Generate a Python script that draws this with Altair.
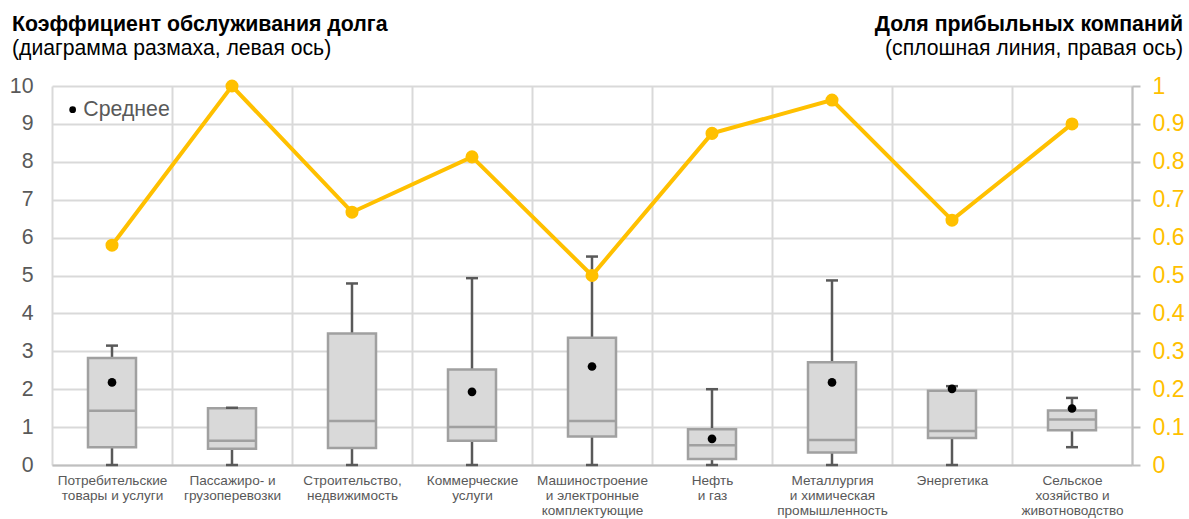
import altair as alt
import pandas as pd

categories = [
    "Потребительские\nтовары и услуги",
    "Пассажиро- и\nгрузоперевозки",
    "Строительство,\nнедвижимость",
    "Коммерческие\nуслуги",
    "Машиностроение\nи электронные\nкомплектующие",
    "Нефть\nи газ",
    "Металлургия\nи химическая\nпромышленность",
    "Энергетика",
    "Сельское\nхозяйство и\nживотноводство",
]
whisker_low = [0, 0, 0, 0, 0, 0, 0, 0, 0.47]
q1 = [0.47, 0.43, 0.45, 0.64, 0.75, 0.16, 0.33, 0.71, 0.92]
median = [1.43, 0.64, 1.16, 1.0, 1.16, 0.52, 0.66, 0.9, 1.2]
q3 = [2.82, 1.5, 3.47, 2.52, 3.36, 0.94, 2.71, 1.96, 1.44]
whisker_high = [3.15, 1.51, 4.79, 4.93, 5.5, 2.0, 4.87, 2.08, 1.77]
mean = [2.18, None, None, 1.93, 2.6, 0.69, 2.18, 2.01, 1.49]
profitable_share = [0.58, 1.0, 0.667, 0.813, 0.5, 0.875, 0.963, 0.646, 0.9]

left_ticks = list(range(0, 11))
right_ticks = [0, 0.1, 0.2, 0.3, 0.4, 0.5, 0.6, 0.7, 0.8, 0.9, 1]

title_left = "Коэффициент обслуживания долга"
subtitle_left = "(диаграмма размаха, левая ось)"
title_right = "Доля прибыльных компаний"
subtitle_right = "(сплошная линия, правая ось)"
legend_label = "Среднее"

df = pd.DataFrame({
    "cat": categories,
    "lo": whisker_low,
    "q1": q1,
    "med": median,
    "q3": q3,
    "hi": whisker_high,
    "mean": mean,
    "share": profitable_share,
    "lbl": [legend_label] * len(categories),
})

GRID = "#D9D9D9"
AX = "#BFBFBF"
TXT = "#595959"
GOLD = "#FFC000"
BOXLINE = "#A0A0A0"

x_enc = alt.X(
    "cat:N",
    sort=categories,
    title=None,
    scale=alt.Scale(paddingInner=0, paddingOuter=0),
    axis=alt.Axis(
        labelExpr="split(datum.label, '\\n')",
        labelAngle=0,
        labelFontSize=13.6,
        labelLineHeight=15,
        labelColor=TXT,
        labelPadding=8,
        ticks=False,
        tickBand="extent",
        grid=True,
        gridColor=GRID,
        gridWidth=2,
        domainColor=AX,
        domainWidth=2,
        labelBaseline="top",
    ),
)

yl_scale = alt.Scale(domain=[0, 10], nice=False)
yl_axis = alt.Axis(
    values=left_ticks,
    labelFontSize=21.3,
    labelColor=TXT,
    labelPadding=19,
    ticks=False,
    domain=False,
    grid=True,
    gridColor=GRID,
    gridWidth=2,
)

base = alt.Chart(df)

whisk = base.mark_rule(color=TXT, strokeWidth=2.5).encode(
    x=x_enc,
    y=alt.Y("lo:Q", scale=yl_scale, axis=yl_axis, title=None),
    y2="hi:Q",
)
cap_hi = base.mark_tick(color=TXT, size=12, thickness=2.5, opacity=1).encode(
    x=x_enc, y=alt.Y("hi:Q", scale=yl_scale, axis=yl_axis, title=None)
)
cap_lo = base.mark_tick(color=TXT, size=12, thickness=2.5, opacity=1).encode(
    x=x_enc, y=alt.Y("lo:Q", scale=yl_scale, axis=yl_axis, title=None)
)
box = base.mark_bar(size=48, fill="#D9D9D9", stroke=BOXLINE, strokeWidth=2.5).encode(
    x=x_enc,
    y=alt.Y("q1:Q", scale=yl_scale, axis=yl_axis, title=None),
    y2="q3:Q",
)
med = base.mark_tick(color=BOXLINE, size=48, thickness=2.5, opacity=1).encode(
    x=x_enc, y=alt.Y("med:Q", scale=yl_scale, axis=yl_axis, title=None)
)
dots = base.mark_circle(size=75, opacity=1).encode(
    x=x_enc,
    y=alt.Y("mean:Q", scale=yl_scale, axis=yl_axis, title=None),
    color=alt.Color(
        "lbl:N",
        scale=alt.Scale(range=["#000000"]),
        legend=alt.Legend(
            orient="none",
            legendX=10,
            legendY=13,
            title=None,
            labelFontSize=21.3,
            labelColor=TXT,
            symbolSize=45,
            symbolType="circle",
            symbolStrokeWidth=0,
            labelOffset=0,
        ),
    ),
)

texts = alt.Chart(pd.DataFrame({"t": [title_left]})).mark_text(
    fontSize=21.3, fontWeight="bold", align="left", baseline="alphabetic", color="#000000"
).encode(text="t:N", x=alt.value(-40), y=alt.value(-55))
texts2 = alt.Chart(pd.DataFrame({"t": [subtitle_left]})).mark_text(
    fontSize=21.2, align="left", baseline="alphabetic", color="#000000"
).encode(text="t:N", x=alt.value(-40), y=alt.value(-31))
texts3 = alt.Chart(pd.DataFrame({"t": [title_right]})).mark_text(
    fontSize=21.3, fontWeight="bold", align="right", baseline="alphabetic", color="#000000"
).encode(text="t:N", x=alt.value(1131), y=alt.value(-55))
texts4 = alt.Chart(pd.DataFrame({"t": [subtitle_right]})).mark_text(
    fontSize=21.2, align="right", baseline="alphabetic", color="#000000"
).encode(text="t:N", x=alt.value(1131), y=alt.value(-31))

left_group = alt.layer(whisk, box, med, cap_hi, cap_lo, dots, texts, texts2, texts3, texts4)

yr_scale = alt.Scale(domain=[0, 1], nice=False)
yr_axis = alt.Axis(
    orient="right",
    values=right_ticks,
    format="~g",
    labelFontSize=23,
    labelColor=GOLD,
    labelPadding=12,
    tickSize=8,
    tickColor=AX,
    tickWidth=2,
    domainColor=AX,
    domainWidth=2,
    grid=False,
)
line = base.mark_line(color=GOLD, strokeWidth=4).encode(
    x=x_enc, y=alt.Y("share:Q", scale=yr_scale, axis=yr_axis, title=None)
)
pts = base.mark_circle(color=GOLD, size=170, opacity=1).encode(
    x=x_enc, y=alt.Y("share:Q", scale=yr_scale, axis=yr_axis, title=None)
)
right_group = alt.layer(line, pts)

chart = (
    alt.layer(left_group, right_group)
    .resolve_scale(y="independent")
    .properties(
        width=1080,
        height=379,
        autosize="none",
        padding={"left": 52, "top": 86, "right": 57, "bottom": 54},
    )
    .configure(font="Liberation Sans")
    .configure_view(stroke=None)
)

chart.save("out.html", embed_options={"renderer": "svg", "actions": False})
